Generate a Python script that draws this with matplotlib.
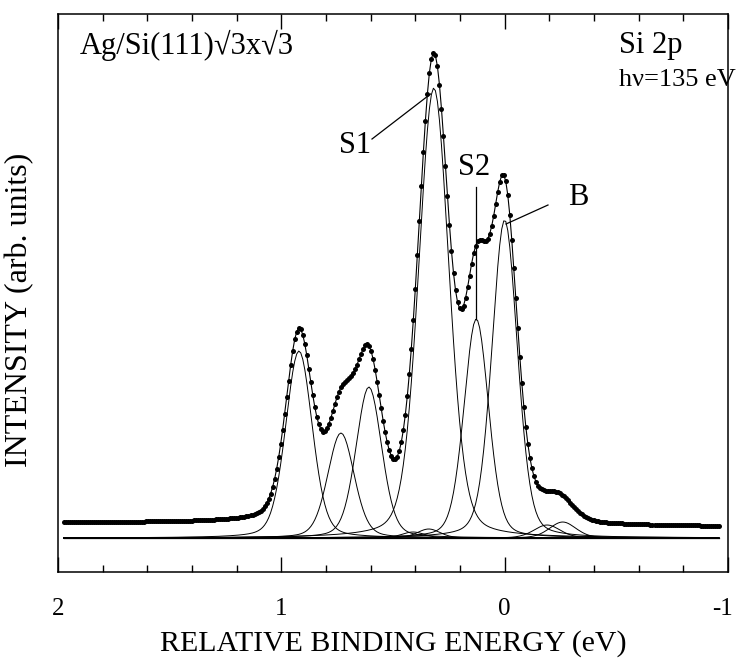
import numpy as np
import matplotlib.pyplot as plt
from matplotlib.transforms import ScaledTranslation

plt.rcParams['font.family'] = ['Liberation Serif', 'DejaVu Serif']

# fitted Si 2p components: position (eV), height (arb.), half width (eV)
centers = [0.921, 0.733, 0.608, 0.317, 0.127, 0.0, 0.41, 0.34, -0.19, -0.26]
heights = [187, 105, 151, 450, 219, 318, 6, 9, 13, 16]
hwhm = [0.07, 0.07, 0.068, 0.08, 0.065, 0.067, 0.06, 0.06, 0.07, 0.07]
eta = 0.25            # lorentzian fraction
bg_high, bg_low = 15.0, 11.0   # background on the high / low BE side

e_min, e_max, step = -0.965, 1.975, 0.009
energy = np.arange(e_max, e_min, -step)


def pvoigt(x, c, h, w):
    u = (x - c) / w
    return h * (eta / (1 + u**2) + (1 - eta) * np.exp(-np.log(2) * u**2))


comps = [pvoigt(energy, c, h, w) for c, h, w in zip(centers, heights, hwhm)]
total = np.sum(comps, axis=0)
# Shirley-type step background
cum = np.cumsum(total[::-1])[::-1]
bg = bg_low + (bg_high - bg_low) * cum / cum[0]
spectrum = total + bg

fig = plt.figure(figsize=(7.36, 6.58), dpi=100)
ax = fig.add_axes([0.0788, 0.1307, 0.9103, 0.848])

ax.plot(energy, np.zeros_like(energy), color='black', lw=0.9)
for y in comps:
    ax.plot(energy, y, color='black', lw=0.7)
ax.plot(energy, spectrum, color='black', lw=0.8, marker='o', ms=3.6,
        markeredgewidth=0)

ax.set_xlim(2, -1)
ax.set_ylim(-34, 524)
ax.set_xticks([2, 1, 0, -1])
ax.set_xticklabels(['2', '1', '0', '-1'])
ax.set_xticks(np.arange(-1, 2.01, 0.2), minor=True)
ax.set_yticks([])
ax.tick_params(axis='x', which='both', direction='in', top=True,
               labelsize=18, pad=19)
ax.tick_params(axis='x', which='major', length=11, width=1)
ax.tick_params(axis='x', which='minor', length=5, width=1)
for s in ax.spines.values():
    s.set_linewidth(1.1)
# keep the "-1" inside the figure
last = ax.get_xticklabels()[-1]
last.set_transform(last.get_transform()
                   + ScaledTranslation(-5 / 100, 0, fig.dpi_scale_trans))

ax.set_xlabel('RELATIVE BINDING ENERGY (eV)', fontsize=21.5)
ax.xaxis.set_label_coords(0.5, -0.104)
ax.set_ylabel('INTENSITY (arb. units)', fontsize=23)
ax.yaxis.set_label_coords(-0.036, 0.47)

ax.text(0.033, 0.944, 'Ag/Si(111)\u221a3x\u221a3', transform=ax.transAxes,
        fontsize=22, va='center')
ax.text(0.838, 0.944, 'Si 2p', transform=ax.transAxes, fontsize=22,
        va='center')
ax.text(0.838, 0.882, 'h\u03bd=135 eV', transform=ax.transAxes, fontsize=19,
        va='center')

# component labels with leader lines
s1, s2, b = 3, 4, 5
ax.text(0.60, 393, 'S1', fontsize=22, ha='right', va='center')
ax.plot([0.594, centers[s1] + 0.015], [399, heights[s1] - 6],
        color='black', lw=0.9)
ax.text(centers[s2] + 0.01, 371, 'S2', fontsize=22, ha='center',
        va='center')
ax.plot([centers[s2], centers[s2]], [heights[s2], 351], color='black', lw=0.9)
ax.text(-0.33, 341, 'B', fontsize=22, ha='center', va='center')
ax.plot([-0.194, centers[b] - 0.006], [333, heights[b] - 4],
        color='black', lw=0.9)

fig.savefig('out.png', dpi=100)
